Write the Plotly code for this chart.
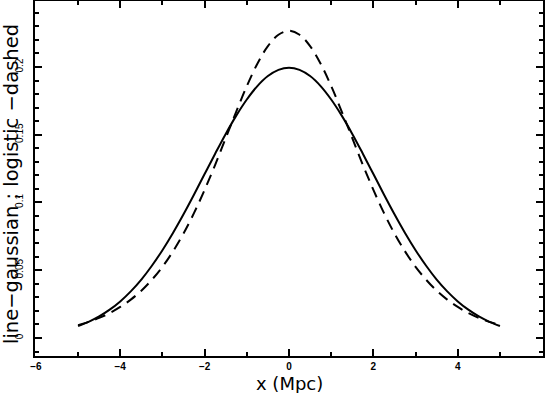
import plotly.graph_objects as go

x_vals = [-5, -4.75, -4.5, -4.25, -4, -3.75, -3.5, -3.25, -3, -2.75, -2.5, -2.25, -2, -1.75, -1.5, -1.25, -1, -0.75, -0.5, -0.25,
          0, 0.25, 0.5, 0.75, 1, 1.25, 1.5, 1.75, 2, 2.25, 2.5, 2.75, 3, 3.25, 3.5, 3.75, 4, 4.25, 4.5, 4.75, 5]

gauss_half = [0.1995, 0.1979, 0.1933, 0.1859, 0.1760, 0.1641, 0.1506, 0.1360, 0.1210, 0.1059, 0.0913,
              0.0775, 0.0648, 0.0533, 0.0431, 0.0344, 0.0270, 0.0209, 0.0159, 0.0119, 0.0088]
logis_half = [0.2267, 0.2238, 0.2154, 0.2024, 0.1859, 0.1671, 0.1475, 0.1278, 0.1093, 0.0923, 0.0771,
              0.0639, 0.0525, 0.0430, 0.0349, 0.0283, 0.0229, 0.0184, 0.0148, 0.0119, 0.0095]

gaussian = gauss_half[::-1][:-1] + gauss_half
logistic = logis_half[::-1][:-1] + logis_half

x_ticks = [-6, -4, -2, 0, 2, 4]
y_ticks = [0, 0.05, 0.1, 0.15, 0.2]
y_tick_text = ["0", "0.05", "0.1", "0.15", "0.2"]

x_title = "x (Mpc)"
y_title = "line\u2212gaussian ; logistic \u2212dashed"

fig = go.Figure()
fig.add_trace(go.Scatter(x=x_vals, y=gaussian, mode="lines", line=dict(color="black", width=2, shape="spline"),
                         showlegend=False, hoverinfo="skip"))
fig.add_trace(go.Scatter(x=x_vals, y=logistic, mode="lines", line=dict(color="black", width=2, shape="spline", dash="11px,7px"),
                         showlegend=False, hoverinfo="skip"))

L, R, T, B = 35, 2, 1, 37
W, H = 545, 393
pw, ph = W - L - R, H - T - B

fig.update_layout(
    width=W, height=H,
    margin=dict(l=L, r=R, t=T, b=B, pad=0, autoexpand=False),
    paper_bgcolor="white", plot_bgcolor="white",
    font=dict(family="Liberation Sans, Arial, sans-serif", color="black"),
    xaxis=dict(range=[-6.02, 6.02], tickvals=x_ticks, ticktext=["<b>%d</b>" % v if v >= 0 else "<b>\u2212%d</b>" % -v for v in x_ticks],
               ticks="inside", ticklen=7, tickwidth=2, tickcolor="black",
               minor=dict(dtick=1, ticks="inside", ticklen=4, tickwidth=2, tickcolor="black", tick0=0),
               showline=True, linewidth=2, linecolor="black", mirror="allticks", automargin=False,
               showgrid=False, zeroline=False, tickfont=dict(size=10), ticklabelstandoff=0),
    yaxis=dict(range=[-0.0133, 0.2487], tickvals=y_ticks, ticktext=y_tick_text,
               ticks="inside", ticklen=7, tickwidth=2, tickcolor="black",
               minor=dict(dtick=0.01, ticks="inside", ticklen=4, tickwidth=2, tickcolor="black", tick0=0),
               showline=True, linewidth=2, linecolor="black", mirror="allticks", automargin=False,
               showgrid=False, zeroline=False, tickfont=dict(size=10), tickangle=-90, ticklabelstandoff=6),
    annotations=[
        dict(text=x_title, xref="paper", yref="paper", x=(289 - L) / pw, y=(H - B - 384) / ph,
             xanchor="center", yanchor="middle", showarrow=False, font=dict(size=18, family="DejaVu Sans")),
        dict(text=y_title, xref="paper", yref="paper", x=(11 - L) / pw, y=(H - B - 184) / ph,
             xanchor="center", yanchor="middle", showarrow=False, textangle=-90, font=dict(size=19.5, family="DejaVu Sans")),
    ],
)

fig.write_html("out.html", config={"displayModeBar": False}, post_script="document.body.style.margin='0px';")
